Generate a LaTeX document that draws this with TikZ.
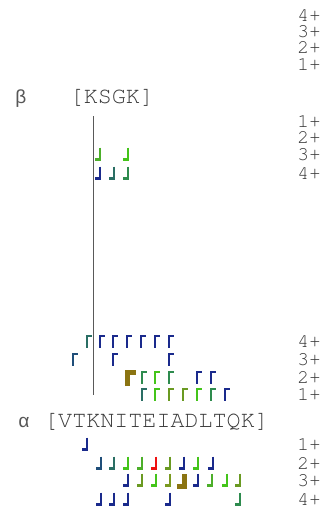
\documentclass[tikz,border=0pt]{standalone}
\usepackage{fontspec}
\setmonofont{Liberation Mono}
\newcommand\courfam{\fontencoding{T1}\fontfamily{pcr}\selectfont}
\definecolor{navy}{HTML}{1A2A8C}
\definecolor{steel}{HTML}{1F4E79}
\definecolor{teal2}{HTML}{2A6E64}
\definecolor{dgreen}{HTML}{2E8B4E}
\definecolor{mgreen}{HTML}{4CAF2A}
\definecolor{bgreen}{HTML}{44C41A}
\definecolor{ogreen}{HTML}{6A9A22}
\definecolor{ogreenb}{HTML}{7A9A20}
\definecolor{thickol}{HTML}{8B7412}
\definecolor{redm}{HTML}{EE1111}
\definecolor{txt}{HTML}{3A3A3A}
\newcommand\upmark[3]{\draw[mk,#3] (#1,#2+6.5) -- (#1,#2-5.3) -- (#1+5,#2-5.3);}
\newcommand\dnmark[3]{\draw[mk,#3] (#1,#2-6.5) -- (#1,#2+5.3) -- (#1-5,#2+5.3);}
\tikzset{
  mk/.style={line width=2.4pt},
  thk/.style={line width=5pt,thickol},
  greek/.style={font=\fontsize{19}{20}\ttfamily,text=txt!85,inner sep=0pt,anchor=base west},
  pep/.style={font=\fontsize{23.4}{24}\courfam,text=txt,inner sep=0pt,anchor=base west},
  chg/.style={font=\fontsize{19.5}{21}\courfam,text=txt,inner sep=0pt,anchor=east},
}
\begin{document}
\begin{tikzpicture}[x=1pt,y=-1pt]
\useasboundingbox[fill=white] (0,0) rectangle (328,520);
% beta peptide
\node[greek] (bsym) at (15,103) {β};
\node[pep] (bseq) at (69.6,103) {[KSGK]};
% alpha peptide
\node[greek] (asym) at (18,427) {α};
\node[pep] (aseq) at (44,427) {[VTKNITEIADLTQK]};
% crosslink line
\coordinate (ltop) at (93.5,116);
\coordinate (lbot) at (93.5,395);
\draw[line width=1.3pt,black!65] (ltop) -- (lbot);
% charge labels
\node[chg] (t4) at (321,15) {4+};
\node[chg] (t3) at (321,31) {3+};
\node[chg] (t2) at (321,47) {2+};
\node[chg] (t1) at (321,64) {1+};
\node[chg] (b1) at (321,121) {1+};
\node[chg] (b2) at (321,137) {2+};
\node[chg] (b3) at (321,154) {3+};
\node[chg] (b4) at (321,173) {4+};
\node[chg] (c4) at (321,341) {4+};
\node[chg] (c3) at (321,359) {3+};
\node[chg] (c2) at (321,377) {2+};
\node[chg] (c1) at (321,394) {1+};
\node[chg] (d1) at (321,444) {1+};
\node[chg] (d2) at (321,463) {2+};
\node[chg] (d3) at (321,480) {3+};
\node[chg] (d4) at (321,499) {4+};
% beta below marks
\dnmark{100}{154}{mgreen}
\dnmark{128}{154}{bgreen}
\dnmark{100}{173}{navy}
\dnmark{114}{173}{teal2}
\dnmark{128}{173}{dgreen}
% alpha above marks
\upmark{87}{341}{teal2}
\upmark{100}{341}{navy}
\upmark{113}{341}{navy}
\upmark{127}{341}{navy}
\upmark{141}{341}{navy}
\upmark{155}{341}{navy}
\upmark{169}{341}{navy}
\upmark{73}{359}{steel}
\upmark{113}{359}{navy}
\upmark{169}{359}{navy}
\draw[thk] (127.5,386) -- (127.5,372.5) -- (136,372.5);
\upmark{142}{377}{dgreen}
\upmark{155}{377}{bgreen}
\upmark{169}{377}{dgreen}
\upmark{197}{377}{navy}
\upmark{211}{377}{navy}
\upmark{142}{394}{teal2}
\upmark{155}{394}{bgreen}
\upmark{169}{394}{ogreen}
\upmark{183}{394}{ogreen}
\upmark{197}{394}{bgreen}
\upmark{211}{394}{dgreen}
\upmark{225}{394}{navy}
% alpha below marks
\dnmark{86.7}{444}{navy}
\dnmark{100.7}{463}{steel}
\dnmark{114}{463}{teal2}
\dnmark{128}{463}{bgreen}
\dnmark{141.7}{463}{mgreen}
\dnmark{156}{463}{redm}
\dnmark{170}{463}{ogreen}
\dnmark{184}{463}{navy}
\dnmark{198}{463}{bgreen}
\dnmark{212.7}{463}{navy}
\dnmark{128}{480}{navy}
\dnmark{141.7}{480}{ogreen}
\dnmark{156}{480}{bgreen}
\dnmark{170}{480}{ogreenb}
\draw[thk] (184.5,474) -- (184.5,486.5) -- (177,486.5);
\dnmark{198}{480}{navy}
\dnmark{212}{480}{mgreen}
\dnmark{226.7}{480}{bgreen}
\dnmark{240}{480}{ogreen}
\dnmark{100.7}{499}{navy}
\dnmark{114}{499}{navy}
\dnmark{128}{499}{navy}
\dnmark{170}{499}{navy}
\dnmark{240}{499}{dgreen}
\end{tikzpicture}
\end{document}
